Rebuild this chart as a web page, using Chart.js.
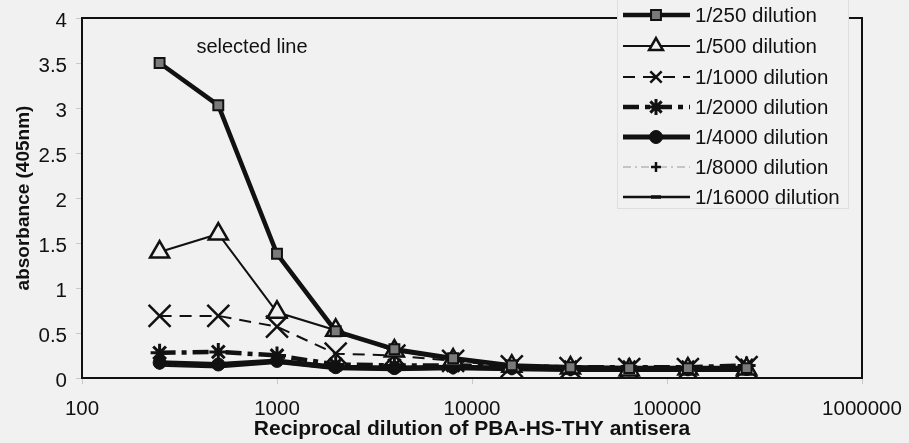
<!DOCTYPE html>
<html>
<head>
<meta charset="utf-8">
<script src="https://cdn.jsdelivr.net/npm/chart.js@4/dist/chart.umd.min.js"></script>
<style>
  html, body { margin: 0; padding: 0; background: #f1f1f1; }
  #wrap { width: 909px; height: 443px; }
  canvas { display: block; }
</style>
</head>
<body>
<div id="wrap"><canvas id="c" width="909" height="443"></canvas></div>
<script>
// Reciprocal dilution of antisera (x values, log axis)
const reciprocalDilution = [250, 500, 1000, 2000, 4000, 8000, 16000, 32000, 64000, 128000, 256000];

// Absorbance at 405 nm for each conjugate dilution
const abs250   = [3.50, 3.03, 1.38, 0.52, 0.32, 0.22, 0.14, 0.12, 0.11, 0.11, 0.11];
const abs500   = [1.40, 1.60, 0.73, 0.53, 0.30, 0.20, 0.13, 0.11, 0.09, 0.10, 0.10];
const abs1000  = [0.69, 0.69, 0.57, 0.27, 0.25, 0.19, 0.13, 0.11, 0.10, 0.10, 0.12];
const abs2000  = [0.28, 0.29, 0.25, 0.15, 0.14, 0.14, 0.13, 0.12, 0.12, 0.12, 0.14];
const abs4000  = [0.17, 0.15, 0.19, 0.12, 0.11, 0.12, 0.11, 0.10, 0.10, 0.10, 0.10];
const abs8000  = [0.15, 0.14, 0.18, 0.11, 0.10, 0.11, 0.10, 0.09, 0.09, 0.09, 0.09];
const abs16000 = [0.14, 0.12, 0.17, 0.10, 0.09, 0.10, 0.09, 0.08, 0.08, 0.08, 0.08];

const seriesLabels = ['1/250 dilution', '1/500 dilution', '1/1000 dilution', '1/2000 dilution',
                      '1/4000 dilution', '1/8000 dilution', '1/16000 dilution'];

const xTickValues = [100, 1000, 10000, 100000, 1000000];
const yTickValues = [0, 0.5, 1, 1.5, 2, 2.5, 3, 3.5, 4];

const BG = '#f1f1f1';
const INK = '#111111';
const FONT = "'Liberation Sans', Arial, sans-serif";

function pts(values) {
  return values.map((v, i) => ({ x: reciprocalDilution[i], y: v }));
}

const datasets = [
  { label: seriesLabels[0], data: pts(abs250), borderColor: INK, borderWidth: 4.5,
    pointStyle: 'rect', pointRadius: 7, pointBackgroundColor: '#7a7a7a', pointBorderColor: INK, pointBorderWidth: 2 },
  { label: seriesLabels[1], data: pts(abs500), borderColor: INK, borderWidth: 2,
    pointStyle: 'triangle', pointRadius: 11, pointBackgroundColor: BG, pointBorderColor: INK, pointBorderWidth: 2.5 },
  { label: seriesLabels[2], data: pts(abs1000), borderColor: INK, borderWidth: 2, borderDash: [12, 8],
    pointStyle: 'crossRot', pointRadius: 15.5, pointBackgroundColor: INK, pointBorderColor: INK, pointBorderWidth: 2.5 },
  { label: seriesLabels[3], data: pts(abs2000), borderColor: INK, borderWidth: 4.5, borderDash: [16, 6, 5, 6],
    pointStyle: 'star', pointRadius: 9, pointBackgroundColor: INK, pointBorderColor: INK, pointBorderWidth: 3 },
  { label: seriesLabels[4], data: pts(abs4000), borderColor: INK, borderWidth: 5,
    pointStyle: 'circle', pointRadius: 6.5, pointBackgroundColor: INK, pointBorderColor: INK, pointBorderWidth: 1 },
  { label: seriesLabels[5], data: pts(abs8000), borderColor: '#9a9a9a', borderWidth: 1.2, borderDash: [8, 4, 2, 4],
    pointStyle: 'cross', pointRadius: 5, pointBackgroundColor: INK, pointBorderColor: INK, pointBorderWidth: 2.5 },
  { label: seriesLabels[6], data: pts(abs16000), borderColor: INK, borderWidth: 2.5,
    pointStyle: 'line', pointRadius: 5, pointBackgroundColor: INK, pointBorderColor: INK, pointBorderWidth: 3.5 }
];
datasets.forEach(d => { d.tension = 0; d.fill = false; d.pointHoverRadius = d.pointRadius; });

// Plot frame (all four sides) drawn under the series
const framePlugin = {
  id: 'frame',
  beforeDatasetsDraw(chart) {
    const a = chart.chartArea, ctx = chart.ctx;
    ctx.save();
    ctx.strokeStyle = INK;
    ctx.lineWidth = 2;
    ctx.strokeRect(a.left, a.top, a.right - a.left, a.bottom - a.top);
    ctx.restore();
  }
};

// Annotation text inside the plot
const notePlugin = {
  id: 'note',
  afterDatasetsDraw(chart) {
    const ctx = chart.ctx;
    ctx.save();
    ctx.fillStyle = INK;
    ctx.font = "20px " + FONT;
    ctx.textAlign = 'center';
    ctx.textBaseline = 'middle';
    ctx.fillText('selected line', 252, 47);
    ctx.restore();
  }
};

// Legend box with a line sample and marker for every series
const legendPlugin = {
  id: 'lineLegend',
  afterDraw(chart) {
    const ctx = chart.ctx;
    const box = { x: 617, y: -2, w: 231, h: 210 };
    const rowY = [15, 46, 77, 107, 137, 167, 197];
    ctx.save();
    ctx.fillStyle = BG;
    ctx.fillRect(box.x, box.y, box.w, box.h);
    ctx.strokeStyle = '#dedede';
    ctx.lineWidth = 1;
    ctx.strokeRect(box.x + 0.5, box.y + 0.5, box.w, box.h);
    chart.data.datasets.forEach((ds, i) => {
      const y = rowY[i];
      ctx.save();
      ctx.strokeStyle = ds.borderColor;
      ctx.lineWidth = ds.borderWidth;
      ctx.setLineDash(ds.borderDash || []);
      ctx.beginPath();
      ctx.moveTo(623, y);
      ctx.lineTo(690, y);
      ctx.stroke();
      ctx.setLineDash([]);
      ctx.fillStyle = ds.pointBackgroundColor;
      ctx.strokeStyle = ds.pointBorderColor;
      ctx.lineWidth = ds.pointBorderWidth;
      const r = Math.min(ds.pointRadius, 8);
      Chart.helpers.drawPoint(ctx, { pointStyle: ds.pointStyle, radius: r, rotation: 0, borderWidth: ds.pointBorderWidth }, 656, y);
      ctx.restore();
      ctx.fillStyle = INK;
      ctx.font = "20.5px " + FONT;
      ctx.textAlign = 'left';
      ctx.textBaseline = 'middle';
      ctx.fillText(ds.label, 695, y + 1);
    });
    ctx.restore();
  }
};

new Chart(document.getElementById('c'), {
  type: 'line',
  data: { datasets },
  plugins: [framePlugin, notePlugin, legendPlugin],
  options: {
    responsive: false,
    animation: false,
    events: [],
    layout: { padding: { top: 15, right: 47, left: 0, bottom: 0 } },
    plugins: { legend: { display: false }, tooltip: { enabled: false } },
    scales: {
      x: {
        type: 'logarithmic',
        min: 100,
        max: 1000000,
        afterBuildTicks(scale) { scale.ticks = xTickValues.map(v => ({ value: v, major: true })); },
        afterFit(scale) {
          scale.height = 65;
          scale.paddingLeft = 0;
          scale.paddingRight = 0;
        },
        grid: { drawOnChartArea: false, drawTicks: true, tickLength: 6, color: '#c8c8c8' },
        border: { display: false },
        ticks: {
          color: INK, padding: 13, maxRotation: 0, autoSkip: false,
          font: { family: FONT, size: 20.5 },
          callback: (v) => String(v)
        },
        title: {
          display: true, text: 'Reciprocal dilution of PBA-HS-THY antisera', color: INK,
          font: { family: FONT, size: 21, weight: 'bold' }, padding: { top: 0, bottom: 1 }
        }
      },
      y: {
        type: 'linear',
        min: 0,
        max: 4,
        afterBuildTicks(scale) { scale.ticks = yTickValues.map(v => ({ value: v })); },
        afterFit(scale) {
          scale.width = 82;
          scale.paddingTop = 0;
          scale.paddingBottom = 0;
        },
        grid: { drawOnChartArea: false, drawTicks: true, tickLength: 6, color: '#c8c8c8' },
        border: { display: false },
        ticks: {
          color: INK, padding: 9, labelOffset: 3,
          font: { family: FONT, size: 20.5 },
          callback: (v) => String(v)
        },
        title: {
          display: true, text: 'absorbance (405nm)', color: INK,
          font: { family: FONT, size: 19, weight: 'bold' }, padding: { top: 12, bottom: 0 }
        }
      }
    }
  }
});
</script>
</body>
</html>
